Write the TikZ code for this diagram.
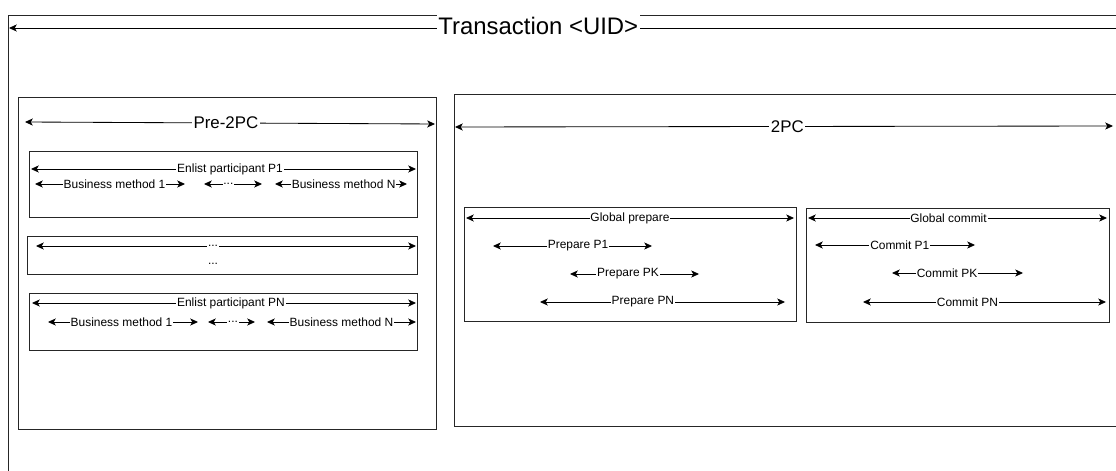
\documentclass[tikz,border=0pt]{standalone}
\usepackage{fontspec}
\setmainfont{Liberation Sans}
\usetikzlibrary{arrows.meta, fit}

\begin{document}
\begin{tikzpicture}[x=0.025cm, y=-0.025cm, >={Stealth[length=5.5pt, width=5pt, inset=1.4pt]}, font=\fontsize{8.5}{10}\selectfont]
    \tikzstyle{box} = [draw=black!85, rectangle, line width=0.7pt, inner sep=0pt]
    \tikzstyle{span} = [<->, line width=0.6pt]
    \tikzstyle{lbl} = [fill=white, inner sep=0.6pt]
    \tikzstyle{biglbl} = [lbl, inner sep=1pt, font=\fontsize{12}{14}\selectfont]

    \useasboundingbox (0,0) rectangle (1116,471);
    \clip (0,0) rectangle (1116,471);

    % frames (outer one and 2PC run past the page edge)
    \node [box, fit={(8,15) (1140,500)}] (txn) {};
    \node [box, fit={(18,97) (436,429)}] (pre) {};
    \node [box, fit={(29,151) (417,217)}] (p1box) {};
    \node [box, fit={(27,236) (417,274)}] (pkbox) {};
    \node [box, fit={(29,293) (417,350)}] (pnbox) {};
    \node [box, fit={(454,94) (1140,426)}] (twopc) {};
    \node [box, fit={(464,207) (796,321)}] (gprep) {};
    \node [box, fit={(806,208) (1109,322)}] (gcomm) {};

    % span end points
    \coordinate (txl) at (9,28);     \coordinate (txr) at (1140,28);
    \coordinate (prel) at (25,122);  \coordinate (prer) at (435,124);
    \coordinate (tpcl) at (455,127); \coordinate (tpcr) at (1113,126);
    \coordinate (ep1l) at (31,169);  \coordinate (ep1r) at (416,169);
    \coordinate (bm1l) at (35,184);  \coordinate (bm1r) at (185,184);
    \coordinate (dt1l) at (204,184); \coordinate (dt1r) at (262,184);
    \coordinate (bmnl) at (275,184); \coordinate (bmnr) at (407,184);
    \coordinate (epkl) at (36,246);  \coordinate (epkr) at (416,246);
    \coordinate (epnl) at (32,303);  \coordinate (epnr) at (416,303);
    \coordinate (bm2l) at (48,322);  \coordinate (bm2r) at (198,322);
    \coordinate (dt2l) at (208,322); \coordinate (dt2r) at (255,322);
    \coordinate (bm3l) at (267,322); \coordinate (bm3r) at (416,322);
    \coordinate (gpl) at (466,218);  \coordinate (gpr) at (794,218);
    \coordinate (pp1l) at (493,246); \coordinate (pp1r) at (652,246);
    \coordinate (ppkl) at (570,274); \coordinate (ppkr) at (699,274);
    \coordinate (ppnl) at (540,302); \coordinate (ppnr) at (785,302);
    \coordinate (gcl) at (808,218);  \coordinate (gcr) at (1107,218);
    \coordinate (cp1l) at (815,245); \coordinate (cp1r) at (975,245);
    \coordinate (cpkl) at (892,273); \coordinate (cpkr) at (1023,273);
    \coordinate (cpnl) at (863,302); \coordinate (cpnr) at (1106,302);

    \draw [span] (txl) -- (txr) node[lbl, pos=0.468, yshift=1.4pt, inner xsep=1pt, inner ysep=3pt, font=\fontsize{17}{20}\selectfont] (txlab) {Transaction <UID>};
    \draw [span] (prel) -- (prer) node[biglbl, pos=0.49] (prelab) {Pre-2PC};
    \draw [span] (tpcl) -- (tpcr) node[biglbl, pos=0.505] (tpclab) {2PC};

    \draw [span] (ep1l) -- (ep1r) node[lbl, pos=0.517] (ep1lab) {Enlist participant P1};
    \draw [span] (bm1l) -- (bm1r) node[lbl, pos=0.53] (bm1lab) {Business method 1};
    \draw [span] (dt1l) -- (dt1r) node[lbl, pos=0.42] (dt1lab) {...};
    \draw [span] (bmnl) -- (bmnr) node[lbl, pos=0.52] (bmnlab) {Business method N};
    \draw [span] (epkl) -- (epkr) node[lbl, pos=0.466] (epklab) {...};
    \node (pkdots) at (213,264) {...};
    \draw [span] (epnl) -- (epnr) node[lbl, pos=0.518] (epnlab) {Enlist participant PN};
    \draw [span] (bm2l) -- (bm2r) node[lbl, pos=0.49] (bm2lab) {Business method 1};
    \draw [span] (dt2l) -- (dt2r) node[lbl, pos=0.53] (dt2lab) {...};
    \draw [span] (bm3l) -- (bm3r) node[lbl, pos=0.5] (bm3lab) {Business method N};

    \draw [span] (gpl) -- (gpr) node[lbl, pos=0.5] (gplab) {Global prepare};
    \draw [span] (pp1l) -- (pp1r) node[lbl, pos=0.535] (pp1lab) {Prepare P1};
    \draw [span] (ppkl) -- (ppkr) node[lbl, pos=0.45] (ppklab) {Prepare PK};
    \draw [span] (ppnl) -- (ppnr) node[lbl, pos=0.42] (ppnlab) {Prepare PN};
    \draw [span] (gcl) -- (gcr) node[lbl, pos=0.47] (gclab) {Global commit};
    \draw [span] (cp1l) -- (cp1r) node[lbl, pos=0.53] (cp1lab) {Commit P1};
    \draw [span] (cpkl) -- (cpkr) node[lbl, pos=0.42] (cpklab) {Commit PK};
    \draw [span] (cpnl) -- (cpnr) node[lbl, pos=0.43] (cpnlab) {Commit PN};
\end{tikzpicture}
\end{document}
